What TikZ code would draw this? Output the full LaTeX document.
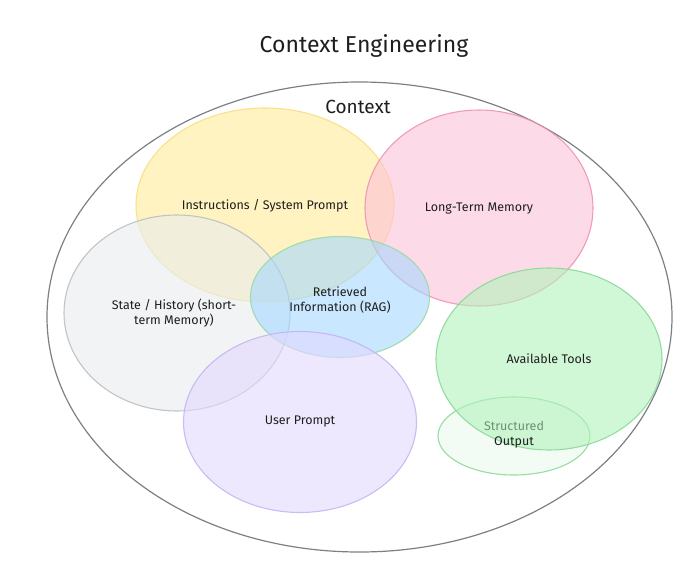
\documentclass[tikz,border=0pt]{standalone}
\usepackage{fontspec}
\setmainfont{Fira Sans}
\usetikzlibrary{shapes.geometric}
\definecolor{ink}{HTML}{1E1E1E}
\definecolor{faint}{HTML}{6F8F76}
\definecolor{outerc}{HTML}{7C8086}
\definecolor{yfill}{HTML}{FFEC99}\definecolor{ydraw}{HTML}{F8DE7E}
\definecolor{pfill}{HTML}{FCC2D7}\definecolor{pdraw}{HTML}{EE8FB0}
\definecolor{gfill}{HTML}{E9ECEF}\definecolor{gdraw}{HTML}{B8BCC0}
\definecolor{bfill}{HTML}{A5D8FF}\definecolor{bdraw}{HTML}{9AD8A4}
\definecolor{vfill}{HTML}{E3D9FF}\definecolor{vdraw}{HTML}{C3B2F2}
\definecolor{tfill}{HTML}{B2F2BB}\definecolor{tdraw}{HTML}{86D895}
\definecolor{sfill}{HTML}{EBFBEE}
\begin{document}
\begin{tikzpicture}[x=1pt,y=-1pt,
  blob/.style={ellipse, inner sep=0pt, line width=1.1pt, fill opacity=0.6, draw opacity=0.85},
  lbl/.style={text=ink, font=\fontsize{12.5}{15}\selectfont, align=center},
]
\useasboundingbox[fill=white] (0,0) rectangle (699,576);
\node[text=ink, font=\fontsize{23}{26}\selectfont] (title) at (364,46) {Context Engineering};
\node[ellipse, draw=outerc, line width=1.2pt, minimum width=625pt, minimum height=470pt, inner sep=0pt] (ctx) at (359.5,317) {};
\node[text=ink, font=\fontsize{19}{22}\selectfont] (ctxl) at (358,107) {Context};
\node[blob, fill=yfill, draw=ydraw, minimum width=258pt, minimum height=194pt] (ins) at (265,205) {};
\node[blob, fill=pfill, draw=pdraw, minimum width=228pt, minimum height=196pt] (ltm) at (479,208) {};
\node[blob, fill=gfill, draw=gdraw, minimum width=226pt, minimum height=196pt] (st) at (177,313) {};
\node[blob, fill=bfill, draw=bdraw, minimum width=179pt, minimum height=121pt] (rag) at (340,297) {};
\node[blob, fill=vfill, draw=vdraw, minimum width=233pt, minimum height=181pt] (up) at (300,422) {};
\node[blob, fill=sfill, draw=tdraw, minimum width=152pt, minimum height=78pt] (so) at (514,436) {};
\node[blob, fill=tfill, draw=tdraw, minimum width=226pt, minimum height=182pt] (tools) at (549,359) {};
\node[lbl] (sol) at (514,435) {\textcolor{faint}{Structured}\\Output};
\node[lbl] (insl) at (265,206) {Instructions / System Prompt};
\node[lbl] (ltml) at (479,209) {Long-Term Memory};
\node[lbl] (stl) at (174,313) {State / History (short-\\term Memory)};
\node[lbl] (ragl) at (340,300) {Retrieved\\Information (RAG)};
\node[lbl] (upl) at (300,422) {User Prompt};
\node[lbl] (tooll) at (549,359) {Available Tools};
\end{tikzpicture}
\end{document}
